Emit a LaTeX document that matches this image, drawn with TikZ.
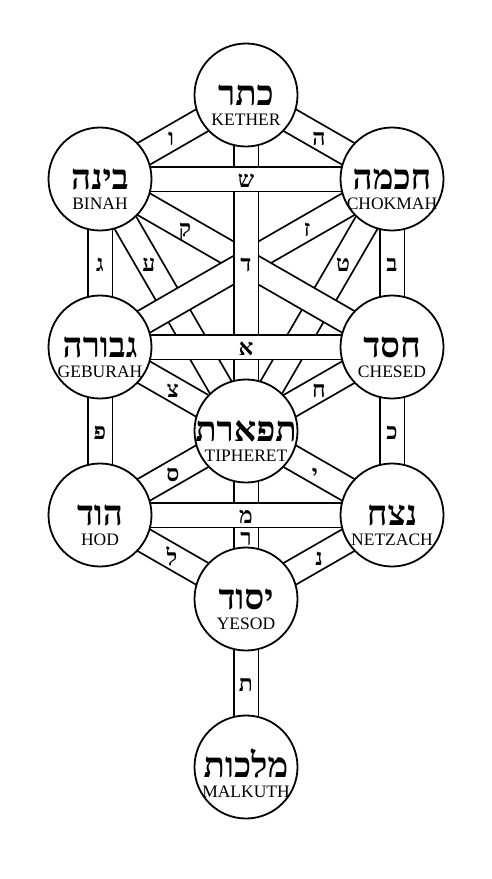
\documentclass[tikz,border=0pt]{standalone}
\usepackage{fontspec}
\setmainfont{Liberation Serif}
\newfontfamily\hebfont[Script=Hebrew]{Liberation Serif}
\TeXXeTstate=1
\usetikzlibrary{calc}
\pgfdeclarelayer{bars}
\pgfsetlayers{bars,main}
\tikzset{
  sef/.style={circle, draw, fill=white, line width=1.8pt, minimum size=103pt, inner sep=0pt},
  bar/.style={line width=1.8pt, double=white, double distance=23pt},
  hebname/.style={anchor=base, inner sep=0pt, text depth=0pt, font=\hebfont\bfseries\fontsize{35}{35}\selectfont},
  latname/.style={anchor=base, inner sep=0pt, text height=12pt, text depth=0pt, font=\fontsize{17.5}{17.5}\selectfont},
  pathlet/.style={anchor=base, inner sep=0pt, font=\hebfont\bfseries\fontsize{23}{23}\selectfont},
}
\newcommand\sefira[5]{%
  \node[sef] (#1) at (#2,#3) {};
  \node[hebname] (#1h) at (#2,#3+10) {\beginR #4\endR};
  \node[latname] (#1l) at (#2,#3+30) {#5};
}
\newcommand\pathletter[4]{%
  \node[pathlet] (#1) at (#2,#3+8) {#4};
}
\begin{document}
\begin{tikzpicture}[x=1pt,y=-1pt]
\useasboundingbox (0,0) rectangle (491,879);
\sefira{K}{246}{95}{כתר}{KETHER}
\sefira{B}{100}{179}{בינה}{BINAH}
\sefira{C}{392}{179}{חכמה}{CHOKMAH}
\sefira{G}{100}{347}{גבורה}{GEBURAH}
\sefira{H}{392}{347}{חסד}{CHESED}
\sefira{T}{246}{431}{תפארת}{TIPHERET}
\sefira{D}{100}{515}{הוד}{HOD}
\sefira{N}{392}{515}{נצח}{NETZACH}
\sefira{Y}{246}{599}{יסוד}{YESOD}
\sefira{M}{246}{767}{מלכות}{MALKUTH}
\coordinate (X) at (246,263);
\begin{pgfonlayer}{bars}
  \fill[white] (0,0) rectangle (491,879);
  \draw[bar] (B.center) -- (T.center);
  \draw[bar] (C.center) -- (T.center);
  \draw[bar] (B.center) -- (X);
  \draw[bar] (C.center) -- (X);
  \draw[bar] (X) -- (G.center);
  \draw[bar] (X) -- (H.center);
  \draw[bar] (K.center) -- (T.center);
  \draw[bar] (B.center) -- (C.center);
  \draw[bar] (G.center) -- (H.center);
  \draw[bar] (K.center) -- (B.center);
  \draw[bar] (K.center) -- (C.center);
  \draw[bar] (B.center) -- (G.center);
  \draw[bar] (C.center) -- (H.center);
  \draw[bar] (G.center) -- (T.center);
  \draw[bar] (H.center) -- (T.center);
  \draw[bar] (G.center) -- (D.center);
  \draw[bar] (H.center) -- (N.center);
  \draw[bar] (T.center) -- (D.center);
  \draw[bar] (T.center) -- (N.center);
  \draw[bar] (T.center) -- (Y.center);
  \draw[bar] (D.center) -- (N.center);
  \draw[bar] (D.center) -- (Y.center);
  \draw[bar] (N.center) -- (Y.center);
  \draw[bar] (Y.center) -- (M.center);
\end{pgfonlayer}
\pathletter{pVav}{171}{137}{ו}
\pathletter{pHe}{319}{137}{ה}
\pathletter{pShin}{246}{179}{ש}
\pathletter{pDalet}{246}{263}{ד}
\pathletter{pQof}{185}{228}{ק}
\pathletter{pZayin}{307}{228}{ז}
\pathletter{pGimel}{100}{263}{ג}
\pathletter{pBet}{392}{263}{ב}
\pathletter{pAyin}{149}{263}{ע}
\pathletter{pTet}{343}{263}{ט}
\pathletter{pAlef}{246}{347}{א}
\pathletter{pTsadi}{173}{389}{צ}
\pathletter{pHet}{319}{389}{ח}
\pathletter{pPe}{100}{431}{פ}
\pathletter{pKaf}{392}{431}{כ}
\pathletter{pSamekh}{173}{473}{ס}
\pathletter{pYod}{315}{473}{י}
\pathletter{pMem}{246}{515}{מ}
\pathletter{pResh}{246}{537}{ר}
\pathletter{pLamed}{172}{557}{ל}
\pathletter{pNun}{319}{557}{נ}
\pathletter{pTav}{246}{683}{ת}
\end{tikzpicture}
\end{document}
